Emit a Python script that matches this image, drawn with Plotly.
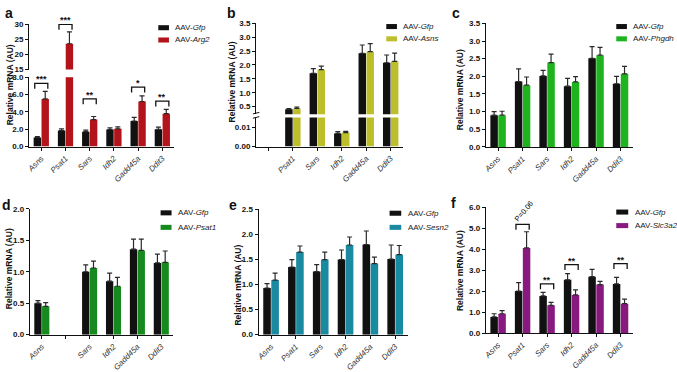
import plotly.graph_objects as go

# ---------------- data ----------------
genes = ["Asns", "Psat1", "Sars", "Idh2", "Gadd45a", "Ddit3"]
labels_a = genes
labels_b = ["", "Psat1", "Sars", "Idh2", "Gadd45a", "Ddit3"]
labels_c = genes
labels_d = ["Asns", "", "Sars", "Idh2", "Gadd45a", "Ddit3"]
labels_e = genes
labels_f = genes

a_gfp = [1.05, 1.85, 1.72, 1.97, 2.95, 2.0]
a_gfp_err = [0.1, 0.2, 0.18, 0.18, 0.42, 0.25]
a_arg2 = [5.5, 23.5, 3.12, 2.05, 5.2, 3.8]
a_arg2_err = [0.88, 3.9, 0.35, 0.22, 0.65, 0.5]
a_sig_idx = [0, 1, 2, 4, 5]
a_sig_level = [7.3, 29.9, 5.5, 6.85, 5.25]
a_sig_text = ["***", "***", "**", "*", "**"]

b_gfp = [None, 0.40, 1.70, 0.0068, 2.42, 2.08]
b_gfp_err = [0, 0.03, 0.17, 0.0009, 0.3, 0.28]
b_asns = [None, 0.43, 1.83, 0.0072, 2.48, 2.13]
b_asns_err = [0, 0.05, 0.13, 0.0006, 0.29, 0.3]

c_gfp = [0.9, 1.85, 2.01, 1.72, 2.51, 1.79]
c_gfp_err = [0.1, 0.36, 0.16, 0.22, 0.33, 0.21]
c_phgdh = [0.9, 1.75, 2.39, 1.84, 2.6, 2.07]
c_phgdh_err = [0.11, 0.23, 0.24, 0.15, 0.22, 0.21]

d_gfp = [0.5, None, 1.0, 0.85, 1.36, 1.14]
d_gfp_err = [0.04, 0, 0.11, 0.13, 0.16, 0.14]
d_psat1 = [0.45, None, 1.06, 0.77, 1.34, 1.15]
d_psat1_err = [0.06, 0, 0.11, 0.14, 0.18, 0.18]

e_gfp = [0.93, 1.35, 1.26, 1.5, 1.8, 1.51]
e_gfp_err = [0.09, 0.15, 0.14, 0.19, 0.27, 0.28]
e_sesn2 = [1.09, 1.65, 1.5, 1.79, 1.42, 1.6]
e_sesn2_err = [0.14, 0.12, 0.15, 0.16, 0.13, 0.18]

f_gfp = [0.77, 2.0, 1.77, 2.54, 2.69, 2.34]
f_gfp_err = [0.15, 0.4, 0.17, 0.29, 0.35, 0.31]
f_slc3a2 = [0.92, 4.06, 1.32, 1.82, 2.31, 1.4]
f_slc3a2_err = [0.15, 0.77, 0.14, 0.24, 0.15, 0.22]
f_sig_idx = [1, 2, 3, 5]
f_sig_level = [5.18, 2.34, 3.26, 3.31]
f_sig_text = ["P=0.06", "**", "**", "**"]

# ---------------- style ----------------
W, H = 677, 372
FONT = "Arial, Liberation Sans, sans-serif"
BLACK = "#111111"
ERR_COLOR = "#2a2a2a"
COLORS = {"a": "#b3131a", "b": "#bdbe2b", "c": "#20b320", "d": "#168a1e",
          "e": "#1a8aa1", "f": "#87197f"}


def fx(px):
    return px / W


def fy(py):
    return 1 - py / H


fig = go.Figure()
layout = dict(width=W, height=H, margin=dict(l=0, r=0, t=0, b=0),
              plot_bgcolor="white", paper_bgcolor="white",
              barmode="group", bargap=0.35, bargroupgap=0.06,
              showlegend=False, font=dict(family=FONT, color=BLACK))
shapes = []
annotations = []

# panel definitions: geometry only
panels = [
    dict(key="a", xname="x", xdom=(26.3, 172.2), labels=labels_a,
         series=[(a_gfp, a_gfp_err, "Gfp"), (a_arg2, a_arg2_err, "Arg2")],
         segs=[("y", 147.3, 75.7, (0, 8), [0, 2, 4, 6, 8], ["0.0", "2.0", "4.0", "6.0", "8.0"]),
               ("y2", 67.7, 20.7, (15, 30), [15, 20, 25, 30], ["15", "20", "25", "30"])],
         lab=(6, 9), ytitle=(7, 83), leg=(156, 166.7, 24.5, 37.2)),
    dict(key="b", xname="x2", xdom=(254.3, 401.7), labels=labels_b,
         series=[(b_gfp, b_gfp_err, "Gfp"), (b_asns, b_asns_err, "Asns")],
         segs=[("y3", 147.3, 117.3, (0, 0.015), [0, 0.01], ["0.00", "0.01"]),
               ("y4", 114.0, 20.0, (0.221, 3.5), [0.5, 1, 1.5, 2, 2.5, 3, 3.5],
                ["0.5", "1.0", "1.5", "2.0", "2.5", "3.0", "3.5"])],
         lab=(230, 9), ytitle=(230, 80), leg=(385, 395.7, 23.3, 36)),
    dict(key="c", xname="x3", xdom=(485.0, 632.6), labels=labels_c,
         series=[(c_gfp, c_gfp_err, "Gfp"), (c_phgdh, c_phgdh_err, "Phgdh")],
         segs=[("y5", 147.7, 20.0, (0, 3.5), [0, 0.5, 1, 1.5, 2, 2.5, 3, 3.5],
                ["0.0", "0.5", "1.0", "1.5", "2.0", "2.5", "3.0", "3.5"])],
         lab=(455, 9), ytitle=(459, 88), leg=(616, 626.7, 23.3, 36)),
    dict(key="d", xname="x4", xdom=(27.0, 171.0), labels=labels_d,
         series=[(d_gfp, d_gfp_err, "Gfp"), (d_psat1, d_psat1_err, "Psat1")],
         segs=[("y6", 341.7, 211.7, (0, 2), [0, 0.5, 1, 1.5, 2],
                ["0.0", "0.5", "1.0", "1.5", "2.0"])],
         lab=(4, 208), ytitle=(6, 273), leg=(158.3, 169.3, 215.8, 230.8)),
    dict(key="e", xname="x5", xdom=(256.8, 406.4), labels=labels_e,
         series=[(e_gfp, e_gfp_err, "Gfp"), (e_sesn2, e_sesn2_err, "Sesn2")],
         segs=[("y7", 341.7, 212.3, (0, 2.5), [0, 0.5, 1, 1.5, 2, 2.5],
                ["0.0", "0.5", "1.0", "1.5", "2.0", "2.5"])],
         lab=(231, 208), ytitle=(236, 290), leg=(388.3, 400, 216.2, 230.8)),
    dict(key="f", xname="x6", xdom=(485.0, 632.6), labels=labels_f,
         series=[(f_gfp, f_gfp_err, "Gfp"), (f_slc3a2, f_slc3a2_err, "Slc3a2")],
         segs=[("y8", 340.0, 210.0, (0, 6), [0, 1, 2, 3, 4, 5, 6],
                ["0.0", "1.0", "2.0", "3.0", "4.0", "5.0", "6.0"])],
         lab=(453, 206), ytitle=(459, 275), leg=(616, 628, 215, 229)),
]

sig = {"a": (a_sig_idx, a_sig_level, a_sig_text), "f": (f_sig_idx, f_sig_level, f_sig_text)}

for p in panels:
    k = p["key"]
    xname = p["xname"]
    xkey = "xaxis" + xname[1:]
    bottom_y = p["segs"][0][0]
    layout[xkey] = dict(
        domain=[fx(p["xdom"][0]), fx(p["xdom"][1])], range=[-0.5, 5.5],
        anchor=bottom_y, tickmode="array", tickvals=list(range(len(p["labels"]))),
        ticktext=[f"<i>{t}</i>" if t else "" for t in p["labels"]],
        tickangle=-45, ticks="outside", ticklen=3, tickwidth=1, tickcolor=BLACK,
        showline=True, linecolor=BLACK, linewidth=1.3, showgrid=False, zeroline=False,
        tickfont=dict(size=8, color="#333333", family=FONT), fixedrange=True)
    for (yname, pbot, ptop, rng, tv, tt) in p["segs"]:
        ykey = "yaxis" + yname[1:]
        layout[ykey] = dict(
            domain=[fy(pbot), fy(ptop)], range=list(rng), anchor=xname,
            tickmode="array", tickvals=tv, ticktext=tt, ticks="outside", ticklen=3,
            tickwidth=1.2, tickcolor=BLACK, showline=True, linecolor=BLACK, linewidth=1.3,
            showgrid=False, zeroline=False,
            tickfont=dict(size=8, color=BLACK, family=FONT, weight="bold"), fixedrange=True)
        lo, hi = rng
        for si, (vals, errs, name) in enumerate(p["series"]):
            col = BLACK if si == 0 else COLORS[k]
            emask = [(e if (v is not None and lo <= v <= hi) else 0) for v, e in zip(vals, errs)]
            fig.add_trace(go.Bar(
                x=list(range(len(vals))), y=vals, xaxis=xname, yaxis=yname,
                marker=dict(color=col, line=dict(width=0)), name=name,
                error_y=dict(type="data", symmetric=False, array=emask,
                             arrayminus=[0] * len(vals), color=ERR_COLOR, thickness=1.2, width=2.5),
                hoverinfo="skip"))

    # panel letter
    annotations.append(dict(text=f"<b>{k}</b>", x=fx(p["lab"][0]), y=fy(p["lab"][1]),
                            xref="paper", yref="paper", showarrow=False,
                            font=dict(size=14, family=FONT, color=BLACK),
                            xanchor="center", yanchor="middle"))
    # y title
    annotations.append(dict(text="<b>Relative mRNA (AU)</b>", x=fx(p["ytitle"][0]),
                            y=fy(p["ytitle"][1]), xref="paper", yref="paper",
                            showarrow=False, textangle=-90,
                            font=dict(size=8.5, family=FONT, color=BLACK),
                            xanchor="center", yanchor="middle"))
    # legend
    lx0, lx1, ly1, ly2 = p["leg"]
    for si, (vals, errs, name) in enumerate(p["series"]):
        col = BLACK if si == 0 else COLORS[k]
        cy = ly1 if si == 0 else ly2
        shapes.append(dict(type="rect", xref="paper", yref="paper",
                           x0=fx(lx0), x1=fx(lx1), y0=fy(cy + 2.6), y1=fy(cy - 2.6),
                           fillcolor=col, line=dict(width=0)))
        annotations.append(dict(text=f"AAV-<i>{name}</i>", x=fx(lx1 + 4.5), y=fy(cy),
                                xref="paper", yref="paper", showarrow=False,
                                xanchor="left", yanchor="middle",
                                font=dict(size=8, family=FONT, color="#222222")))

    # significance brackets
    if k in sig:
        idxs, levels, texts = sig[k]
        for i, lev, txt in zip(idxs, levels, texts):
            seg = None
            for s in p["segs"]:
                if s[3][0] <= lev <= s[3][1]:
                    seg = s
            yname, pbot, ptop, rng, _, _ = seg
            ppu = (pbot - ptop) / (rng[1] - rng[0])
            leg = 5.5 / ppu
            x0, x1 = i - 0.27, i + 0.27
            shapes.append(dict(type="path", xref=xname, yref=yname,
                               path=f"M{x0},{lev - leg} L{x0},{lev} L{x1},{lev} L{x1},{lev - leg}",
                               line=dict(color=BLACK, width=1.3)))
            if txt.startswith("P"):
                annotations.append(dict(text=txt, x=i, y=lev, xref=xname, yref=yname,
                                        showarrow=False, textangle=-50, xanchor="center",
                                        yanchor="middle", yshift=13, xshift=1,
                                        font=dict(size=7.5, family=FONT, color=BLACK)))
            else:
                annotations.append(dict(text=f"<b>{txt}</b>", x=i, y=lev, xref=xname, yref=yname,
                                        showarrow=False, xanchor="center", yanchor="bottom",
                                        yshift=-3, font=dict(size=9, family=FONT, color=BLACK)))

# axis break marks in panel b
for yy in (112.8, 117.2):
    shapes.append(dict(type="line", xref="paper", yref="paper",
                       x0=fx(251), x1=fx(257.5), y0=fy(yy + 0.8), y1=fy(yy - 0.8),
                       line=dict(color=BLACK, width=1)))

layout["shapes"] = shapes
layout["annotations"] = annotations
fig.update_layout(**layout)
fig.write_html("out.html", config={"displayModeBar": False},
               post_script="document.body.style.margin='0';document.body.style.overflow='hidden';")
